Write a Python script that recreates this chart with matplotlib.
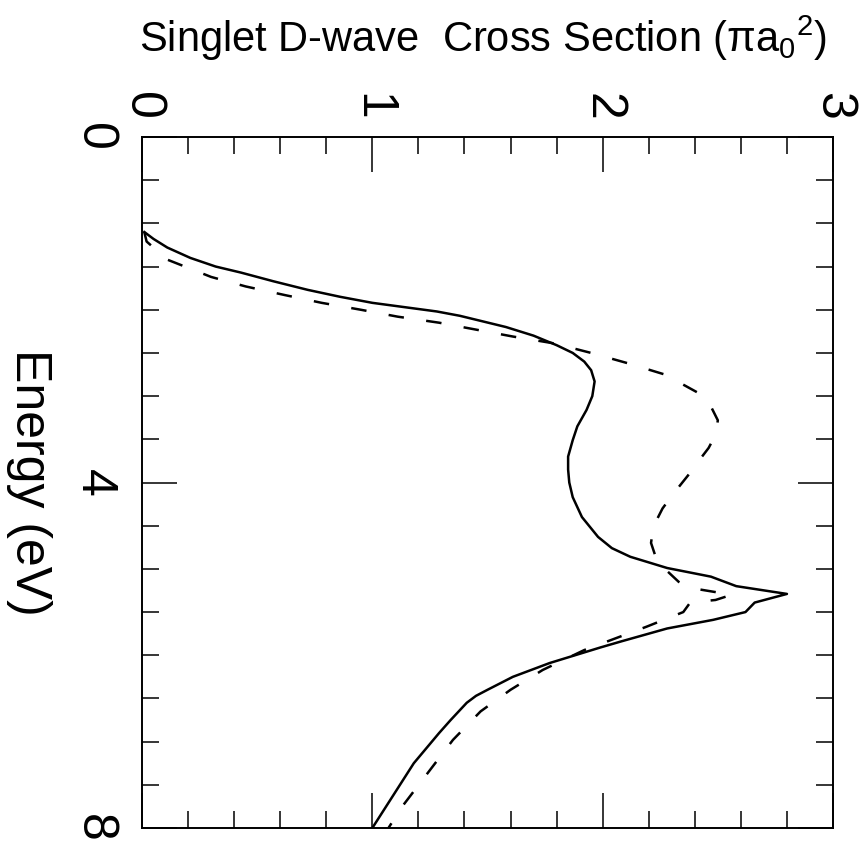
import numpy as np
import matplotlib
matplotlib.use("Agg")
import matplotlib.pyplot as plt
from matplotlib.ticker import MultipleLocator

plt.rcParams['font.family'] = ['Liberation Sans', 'DejaVu Sans']
plt.rcParams['mathtext.fontset'] = 'custom'
plt.rcParams['mathtext.rm'] = 'Liberation Sans'
plt.rcParams['mathtext.it'] = 'Liberation Sans'

# energy (eV) and singlet D-wave cross section (pi a0^2)
e_solid = [1.10, 1.18, 1.28, 1.40, 1.50, 1.57, 1.67, 1.77, 1.85, 1.92, 2.02,
           2.07, 2.20, 2.30, 2.41, 2.50, 2.60, 2.70, 2.83, 3.00, 3.16, 3.35,
           3.51, 3.70, 3.85, 4.00, 4.17, 4.40, 4.63, 4.76, 4.86, 4.99, 5.09,
           5.20, 5.29, 5.39, 5.50, 5.59, 5.69, 5.84, 5.91, 6.09, 6.25, 6.40,
           6.47, 6.55, 6.75, 6.90, 7.25, 8.00]
sig_solid = [0.01, 0.05, 0.11, 0.21, 0.32, 0.43, 0.57, 0.72, 0.86, 1.00, 1.28,
             1.38, 1.58, 1.70, 1.80, 1.87, 1.92, 1.95, 1.965, 1.955, 1.93, 1.89,
             1.87, 1.85, 1.85, 1.855, 1.87, 1.91, 1.98, 2.04, 2.12, 2.28, 2.47,
             2.58, 2.80, 2.66, 2.62, 2.48, 2.28, 2.08, 1.99, 1.77, 1.61, 1.50,
             1.45, 1.41, 1.34, 1.29, 1.18, 1.00]

e_dash = [1.10, 1.21, 1.42, 1.62, 1.73, 1.83, 1.92, 2.00, 2.08, 2.15, 2.23,
          2.31, 2.39, 2.50, 2.62, 2.75, 2.97, 3.12, 3.28, 3.45, 3.60, 3.74,
          3.92, 4.12, 4.30, 4.51, 4.70, 4.86, 4.95, 5.15, 5.22, 5.30, 5.36,
          5.39, 5.50, 5.67, 5.94, 6.17, 6.40, 6.65, 6.98, 7.33, 7.75, 8.00]
sig_dash = [0.01, 0.02, 0.11, 0.30, 0.45, 0.62, 0.78, 0.95, 1.11, 1.29, 1.45,
            1.61, 1.79, 1.95, 2.11, 2.27, 2.42, 2.47, 2.50, 2.49, 2.46, 2.42,
            2.37, 2.31, 2.26, 2.22, 2.21, 2.23, 2.25, 2.33, 2.38, 2.56, 2.49,
            2.38, 2.35, 2.19, 1.92, 1.74, 1.60, 1.47, 1.35, 1.25, 1.13, 1.07]

fig = plt.figure(figsize=(8.67, 8.49), dpi=100)
ax = fig.add_axes([142/867, 1-828/849, 691/867, 691/849])

ax.plot(sig_solid, e_solid, color='k', lw=1.8)
ax.plot(sig_dash, e_dash, color='k', lw=1.8, ls=(0, (6.2, 9.0)))

ax.set_xlim(0, 3)
ax.set_ylim(8, 0)
ax.xaxis.tick_top()
ax.set_xticks([0, 1, 2, 3])
ax.set_yticks([0, 4, 8])
ax.xaxis.set_minor_locator(MultipleLocator(0.2))
ax.yaxis.set_minor_locator(MultipleLocator(0.5))
ax.tick_params(which='both', direction='in', top=True, bottom=True,
               left=True, right=True, labeltop=True, labelbottom=False,
               width=1.1, labelsize=36)
ax.tick_params(which='major', length=25)
ax.tick_params(which='minor', length=12.5)
ax.tick_params(axis='x', pad=12)
ax.tick_params(axis='y', pad=18)
for lab in ax.get_xticklabels():
    lab.set_rotation(-90)
for lab in ax.get_yticklabels():
    lab.set_rotation(-90)
    lab.set_va('center')
for s in ax.spines.values():
    s.set_linewidth(1.4)

ax.set_ylabel('Energy (eV)', fontsize=36, rotation=-90, labelpad=30,
              va='center')
fig.text(483/867, 1-52/849, r'Singlet D-wave  Cross Section (πa$_0$$^2$)',
         fontsize=30, ha='center', va='baseline')

fig.savefig('out.png', dpi=100)
